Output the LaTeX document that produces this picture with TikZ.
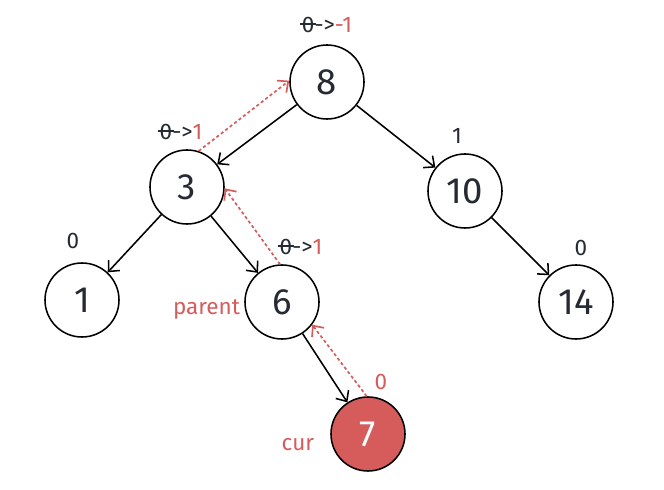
\documentclass[tikz,border=0pt]{standalone}
\usepackage{fontspec}
\setmainfont{Fira Sans}
\usetikzlibrary{arrows.meta}
\definecolor{markred}{RGB}{214,92,92}
\definecolor{ink}{RGB}{38,42,50}
\newcommand{\struckzero}{\ooalign{0\cr\hidewidth\rule[0.33em]{0.7em}{0.08em}\hidewidth\cr}}

\begin{document}
\begin{tikzpicture}[
  x=0.025cm, y=-0.025cm,
  >={Straight Barb[length=2.1mm,width=3.8mm]},
  treenode/.style={draw, circle, line width=1.1pt, minimum size=1.85cm, inner sep=0pt, text=ink, font=\fontsize{26}{26}\selectfont},
  curnode/.style={treenode, fill=markred, text=white},
  edge/.style={->, line width=1.1pt},
  backedge/.style={->, markred, line width=1.2pt, dash pattern=on 2.2pt off 1.8pt},
  bf/.style={text=ink, font=\fontsize{16}{16}\selectfont},
  tag/.style={text=markred, font=\fontsize{16}{16}\selectfont}
]
\useasboundingbox (0,0) rectangle (664,490);

% tree
\node[treenode] (n8) at (327,82) {8};
\node[treenode] (n3) at (187,187) {3};
\node[treenode] (n10) at (465,191) {10};
\node[treenode] (n1) at (82,300) {1};
\node[treenode] (n6) at (282,302) {6};
\node[treenode] (n14) at (576,302) {14};
\node[curnode] (n7) at (368,434) {7};

\draw[edge] (n8) -- (n3);
\draw[edge] (n8) -- (n10);
\draw[edge] (n3) -- (n1);
\draw[edge] (n3) -- (n6);
\draw[edge] (n10) -- (n14);
\draw[edge] (n6) -- (n7);

% walking back up
\draw[backedge] (n7.92) -- (n6.-37);
\draw[backedge] (n6.93) -- (n3.-2);
\draw[backedge] (n3.72) -- (n8.178);

% balance factors
\node[bf] (bf8) at (327,25) {\struckzero->{\color{markred}-1}};
\node[bf] (bf3) at (181,132) {\struckzero->{\color{markred}1}};
\node[bf] (bf10) at (457,136) {1};
\node[bf] (bf1) at (73,241) {0};
\node[bf] (bf6) at (301,247) {\struckzero->{\color{markred}1}};
\node[bf] (bf14) at (581,248) {0};
\node[tag] (bf7) at (381,382) {0};

\node[tag, anchor=east] (parent) at (245,310) {parent};
\node[tag, anchor=east] (cur) at (319,445) {cur};

\end{tikzpicture}
\end{document}
